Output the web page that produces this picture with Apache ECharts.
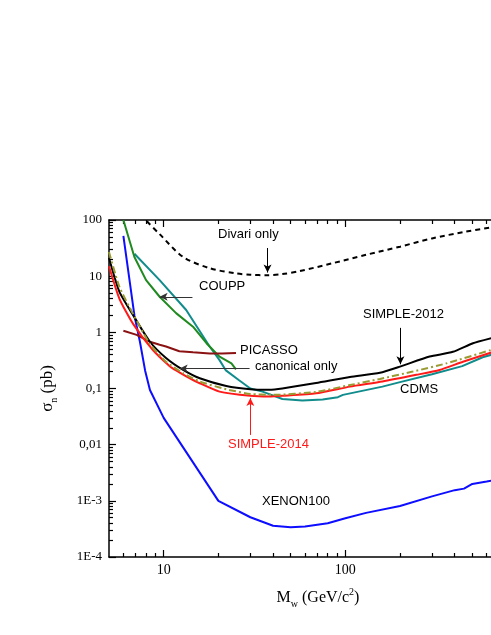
<!DOCTYPE html>
<html>
<head>
<meta charset="utf-8">
<script src="https://cdn.jsdelivr.net/npm/echarts@6/dist/echarts.min.js"></script>
<style>
html, body { margin: 0; padding: 0; background: #fff; }
#chart { width: 491px; height: 635px; }
</style>
</head>
<body>
<div id="chart"></div>
<script>
// WIMP mass (GeV/c2) vs cross section (pb), pairs
var xenon100 = [[6, 52], [6.9, 2.0], [7.4, 0.68], [7.9, 0.21], [8.4, 0.094], [10, 0.03], [20, 1.0e-3],
  [30, 5.1e-4], [40, 3.6e-4], [50, 3.4e-4], [60, 3.5e-4], [80, 4.0e-4], [100, 4.9e-4], [130, 6.1e-4],
  [200, 8.1e-4], [300, 1.2e-3], [400, 1.55e-3], [450, 1.65e-3], [500, 2.0e-3], [600, 2.2e-3], [640, 2.3e-3]];
var coupp = [[6, 100], [6.9, 22], [8, 8.5], [9.5, 4.3], [11.7, 2.2], [14.5, 1.26], [17.2, 0.64],
  [20.3, 0.37], [23.6, 0.28], [25, 0.22]];
var cdms = [[6.9, 25], [9.5, 8.5], [13.3, 2.5], [17.9, 0.56], [20.3, 0.32], [22, 0.21], [26, 0.14],
  [30, 0.1], [35, 0.088], [45, 0.065], [58, 0.061], [75, 0.064], [91, 0.07], [97, 0.077], [160, 0.108],
  [200, 0.13], [300, 0.18], [440, 0.25], [570, 0.36], [640, 0.4]];
var picasso = [[6, 1.07], [7.1, 0.9], [8.4, 0.68], [9.5, 0.6], [10.3, 0.56], [12.2, 0.46], [14.5, 0.44],
  [17.9, 0.42], [21, 0.42], [25, 0.43]];
var divari = [[7.5, 125], [8, 98], [9.5, 56], [12.8, 22], [18, 13.8], [25, 11.2], [30, 10.6], [37, 10.4],
  [45, 10.9], [56, 12.3], [85, 17], [130, 24], [200, 33.5], [300, 47], [460, 62], [640, 74]];
var simple2012 = [[5, 21], [5.7, 5.3], [6.8, 2.0], [8.4, 0.68], [10.3, 0.35], [12.8, 0.214], [15.8, 0.152],
  [22.1, 0.111], [30, 0.097], [38, 0.095], [45, 0.1], [69, 0.125], [106, 0.16], [155, 0.19], [200, 0.245],
  [291, 0.37], [391, 0.45], [504, 0.64], [640, 0.79]];
var canonical = [[5, 27], [5.7, 6.5], [6.8, 2.1], [8.4, 0.62], [10.3, 0.3], [12.8, 0.187], [15.8, 0.133],
  [22.1, 0.097], [30, 0.08], [40, 0.077], [69, 0.087], [106, 0.115], [155, 0.148], [235, 0.2], [360, 0.28],
  [640, 0.49]];
var simple2014 = [[5, 15], [5.7, 4.0], [6.8, 1.4], [8.7, 0.49], [10.8, 0.25], [11.7, 0.21], [13.3, 0.165],
  [15.8, 0.124], [20.3, 0.088], [30, 0.074], [38, 0.072], [45, 0.074], [69, 0.082], [106, 0.108],
  [160, 0.133], [246, 0.175], [330, 0.214], [444, 0.3], [640, 0.44]];

var massTicks = [10, 100, 1000];
var massLabels = [10, 100];
var sigmaTicks = [1e-4, 1e-3, 0.01, 0.1, 1, 10, 100];
var sigmaLabels = ['1E-4', '1E-3', '0,01', '0,1', '1', '10', '100'];

var massMinor = [6, 7, 8, 9];
var sigmaMinor = [];
[10, 100].forEach(function (d) {
  for (var k = 2; k <= 9; k++) massMinor.push(k * d);
});
[1e-4, 1e-3, 0.01, 0.1, 1, 10].forEach(function (d) {
  for (var k = 2; k <= 9; k++) sigmaMinor.push(+(k * d).toPrecision(3));
});

var serif = 'Liberation Serif';
var sans = 'Liberation Sans';

function xAxisDef(pos, major) {
  return {
    type: 'log', logBase: 10, min: 5, max: 1000, position: pos,
    axisLine: { show: major, onZero: false, lineStyle: { color: '#000', width: 1.5 } },
    axisTick: { show: true, inside: true, length: major ? 7 : 4, customValues: major ? massTicks : massMinor,
      lineStyle: { color: '#000', width: 1.2 } },
    axisLabel: { show: major && pos === 'bottom', customValues: massLabels, margin: 6,
      fontFamily: serif, fontSize: 14, color: '#000',
      formatter: function (v) { return String(Math.round(v)); } },
    splitLine: { show: false },
    minorTick: { show: false }
  };
}

function yAxisDef(pos, major) {
  return {
    type: 'log', logBase: 10, min: 1e-4, max: 100, position: pos,
    axisLine: { show: major, onZero: false, lineStyle: { color: '#000', width: 1.5 } },
    axisTick: { show: true, inside: true, length: major ? 7 : 4, customValues: major ? sigmaTicks : sigmaMinor,
      lineStyle: { color: '#000', width: 1.2 } },
    axisLabel: { show: major && pos === 'left', customValues: sigmaTicks, margin: 7,
      fontFamily: serif, fontSize: 13, color: '#000',
      formatter: function (v) {
        for (var i = 0; i < sigmaTicks.length; i++) {
          if (Math.abs(Math.log10(v) - Math.log10(sigmaTicks[i])) < 1e-6) return sigmaLabels[i];
        }
        return '';
      } },
    splitLine: { show: false },
    minorTick: { show: false }
  };
}

var xAxes = [xAxisDef('bottom', true), xAxisDef('bottom', false), xAxisDef('top', true), xAxisDef('top', false)];
var yAxes = [yAxisDef('left', true), yAxisDef('left', false), yAxisDef('right', true), yAxisDef('right', false)];

xAxes[0].name = '{m|M}{sub|w}{m| (GeV/c}{sup|2}{m|)}';
xAxes[0].nameLocation = 'middle';
xAxes[0].nameGap = 30;
xAxes[0].nameMoveOverlap = false;
xAxes[0].nameTextStyle = {
  rich: {
    m: { fontFamily: serif, fontSize: 16, color: '#000', lineHeight: 22, verticalAlign: 'middle' },
    sub: { fontFamily: serif, fontSize: 10, color: '#000', lineHeight: 10, verticalAlign: 'bottom' },
    sup: { fontFamily: serif, fontSize: 10, color: '#000', lineHeight: 10, verticalAlign: 'top' }
  }
};
yAxes[0].name = '{m|σ}{sub|n}{m| (pb)}';
yAxes[0].nameLocation = 'middle';
yAxes[0].nameRotate = 90;
yAxes[0].nameGap = 50;
yAxes[0].nameMoveOverlap = false;
yAxes[0].nameTextStyle = {
  rich: {
    m: { fontFamily: serif, fontSize: 17, color: '#000', lineHeight: 22, verticalAlign: 'middle' },
    sub: { fontFamily: serif, fontSize: 10, color: '#000', lineHeight: 10, verticalAlign: 'bottom' }
  }
};

function arrow(from, to, color) {
  return {
    silent: true, animation: false,
    symbol: ['none', 'arrow'], symbolSize: [6, 8],
    label: { show: false },
    lineStyle: { color: color, width: 1, type: 'solid' },
    emphasis: { disabled: true },
    data: [[{ coord: from }, { coord: to }]]
  };
}

function curve(name, data, color, extra) {
  var s = {
    name: name, type: 'line', data: data, xAxisIndex: 0, yAxisIndex: 0,
    showSymbol: false, symbol: 'none', silent: true, animation: false,
    lineStyle: { color: color, width: 2 }, itemStyle: { color: color }
  };
  for (var k in extra) s[k] = extra[k];
  return s;
}

var series = [
  curve('XENON100', xenon100, '#0d0dff', {}),
  curve('CDMS', cdms, '#108c8c', {}),
  curve('COUPP', coupp, '#1f8a1f', { markLine: arrow([14.4, 4.3], [9.5, 4.3], '#333') }),
  curve('PICASSO', picasso, '#8b1212', {}),
  curve('Divari only', divari, '#000', { smooth: 0.3,
    lineStyle: { color: '#000', width: 2, type: [5, 4] },
    markLine: arrow([37.3, 31.7], [37.3, 11.6], '#000') }),
  curve('SIMPLE-2012', simple2012, '#000', { smooth: 0.2,
    markLine: arrow([201, 1.2], [201, 0.27], '#000') }),
  curve('SIMPLE-2014', simple2014, '#ff1a1a', { smooth: 0.2,
    markLine: arrow([30, 0.0149], [30, 0.068], '#ff1a1a') }),
  curve('canonical only', canonical, '#9a9a33', { smooth: 0.2,
    lineStyle: { color: '#9a9a33', width: 2, type: [7, 3, 2, 3] },
    markLine: arrow([29.7, 0.228], [12.25, 0.228], '#333') })
];

function note(text, x, y, color) {
  return { type: 'text', left: x, top: y - 8, silent: true,
    style: { text: text, fill: color || '#000', font: '13px ' + sans } };
}

var option = {
  backgroundColor: '#fff',
  animation: false,
  grid: { left: 109, top: 220, width: 418, height: 337, containLabel: false, outerBoundsMode: 'none' },
  xAxis: xAxes,
  yAxis: yAxes,
  series: series,
  graphic: [
    note('Divari only', 218, 236),
    note('COUPP', 199, 288),
    note('PICASSO', 240, 352),
    note('canonical only', 255, 368),
    note('SIMPLE-2012', 363, 316),
    note('CDMS', 400, 391),
    note('SIMPLE-2014', 228, 446, '#ff1a1a'),
    note('XENON100', 262, 503)
  ]
};

var myChart = echarts.init(document.getElementById('chart'), null, { renderer: 'canvas' });
myChart.setOption(option);

window.addEventListener('resize', function () {
  myChart.resize();
});
</script>
</body>
</html>
